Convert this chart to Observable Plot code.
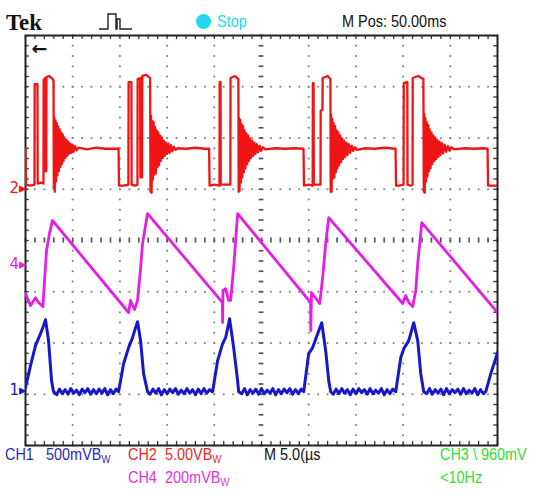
<!DOCTYPE html>
<html><head><meta charset="utf-8">
<script src="https://cdn.jsdelivr.net/npm/d3@7"></script>
<script src="https://cdn.jsdelivr.net/npm/@observablehq/plot@0.6"></script>
<style>
body{margin:0;background:#fff}
#wrap{position:relative;width:556px;height:496px;overflow:hidden;background:#fff}
#wrap svg{position:absolute;left:0;top:0}
.t{position:absolute;font-family:"Liberation Sans",Arial,sans-serif;font-size:17px;line-height:17px;white-space:nowrap;transform-origin:0 50%;transform:scaleX(.85)}
.t sub{font-size:11px;vertical-align:-3px;line-height:0}
</style></head>
<body><div id="wrap"></div>
<script>
// ---- channel settings ----
const channelNames = ["CH1", "CH2", "CH4"];
const channelColors = ["#1818c8", "#f01414", "#e41ee4"];
const unitsPerDiv = [500, 5, 200];      // CH1 mV/div, CH2 V/div, CH4 mV/div
const groundDiv = [-2.93, 1.03, -0.47]; // ground-marker level, in divisions from centre

// ---- CH1 (blue) [time µs, mV] ----
const ch1Trace = [
 [0,30],[0.53,244],[1.06,439],[1.59,556],[1.91,634],[2.12,693],[2.44,488],[2.76,98],[2.97,-10],
 [3.3,-40],[3.6,15],[3.9,-30],[4.2,10],[4.5,-35],[4.8,20],[5.1,-25],[5.4,5],[5.7,-40],[6.0,15],[6.3,-20],[6.6,20],[6.9,-35],[7.2,10],[7.5,-30],[7.8,15],[8.1,-25],[8.4,20],[8.7,-40],[9.0,10],[9.3,-30],[9.6,15],
 [9.86,-10],[10.39,263],[10.92,420],[11.34,517],[11.66,615],[11.87,673],[12.19,488],[12.51,166],[12.93,-10],
 [13.2,-35],[13.5,15],[13.8,-25],[14.1,20],[14.4,-40],[14.7,10],[15.0,-30],[15.3,15],[15.6,-20],[15.9,20],[16.2,-35],[16.5,5],[16.8,-30],[17.1,20],[17.4,-25],[17.7,10],[18.0,-40],[18.3,15],[18.6,-30],[18.9,20],[19.2,-25],[19.5,10],
 [19.82,-10],[20.35,293],[20.88,459],[21.2,517],[21.52,654],[21.62,702],[22.05,420],[22.47,98],[22.58,-10],
 [22.9,-30],[23.2,20],[23.5,-40],[23.8,10],[24.1,-25],[24.4,15],[24.7,-35],[25.0,20],[25.3,-30],[25.6,5],[25.9,-25],[26.2,20],[26.5,-40],[26.8,10],[27.1,-30],[27.4,15],[27.7,-20],[28.0,20],[28.3,-35],[28.6,10],[28.9,-30],[29.2,15],
 [29.47,-10],[30.0,361],[30.42,420],[30.95,556],[31.38,663],[31.8,390],[32.12,98],[32.33,-10],
 [32.6,-35],[32.9,15],[33.2,-30],[33.5,20],[33.8,-25],[34.1,10],[34.4,-40],[34.7,15],[35.0,-30],[35.3,20],[35.6,-20],[35.9,10],[36.2,-35],[36.5,20],[36.8,-30],[37.1,5],[37.4,-25],[37.7,20],[38.0,-40],[38.3,10],[38.6,-30],[38.9,15],
 [39.22,-10],[39.75,322],[40.07,410],[40.6,488],[41.13,663],[41.55,488],[41.87,166],[42.19,-10],
 [42.5,-30],[42.8,20],[43.1,-35],[43.4,10],[43.7,-25],[44.0,15],[44.3,-40],[44.6,20],[44.9,-30],[45.2,10],[45.5,-20],[45.8,15],[46.1,-35],[46.4,20],[46.7,-30],[47.0,5],[47.3,-25],[47.6,20],[47.9,-40],[48.2,10],[48.5,-30],
 [48.76,-10],[49.29,166],[50,371]
];

// ---- CH2 (red) [time µs, V] ----
const ch2Trace = [
 [0,3.8],[0.05,0.3],[0.5,0.2],[0.95,0.3],
 [0.97,10.1],[1.27,10.1],[1.29,0.4],[1.6,0.5],[1.9,0.4],
 [1.92,10.5],[2.1,10.7],[2.12,1.6],[2.2,1.6],[2.22,10.8],[2.5,10.9],[2.9,10.6],[2.97,10.4],[3.0,-0.1],
 [3.05,6.9],[3.1,-0.4],[3.17,6.6],[3.24,0.6],[3.31,6.3],[3.38,1.2],[3.45,6.0],[3.53,1.6],[3.61,5.7],[3.69,2.0],[3.77,5.4],[3.85,2.3],[3.94,5.2],[4.03,2.6],[4.12,4.9],[4.22,2.9],[4.32,4.7],[4.42,3.1],[4.52,4.5],[4.62,3.3],[4.74,4.3],[4.86,3.4],[4.98,4.2],[5.1,3.5],[5.25,4.05],[5.4,3.65],[5.6,3.9],
 [6.5,3.75],[7.5,3.9],[8.5,3.8],[9.86,3.8],[9.9,0.2],
 [10.4,0.2],[10.9,0.3],[10.92,10.3],[11.22,10.3],[11.24,0.3],[11.6,0.2],[11.86,0.3],
 [11.88,10.6],[12.15,10.7],[12.17,1.0],[12.35,1.0],[12.37,10.9],[12.8,11.0],[13.2,10.7],[13.24,-0.4],
 [13.3,7.0],[13.36,-0.5],[13.43,6.5],[13.5,0.8],[13.57,6.4],[13.65,1.3],[13.73,5.9],[13.81,1.4],[13.89,5.6],[13.97,2.0],[14.06,5.4],[14.15,2.2],[14.24,5.1],[14.34,2.6],[14.44,4.9],[14.54,2.9],[14.65,4.6],[14.76,3.1],[14.88,4.4],[15.0,3.3],[15.13,4.3],[15.26,3.4],[15.4,4.15],[15.55,3.55],[15.7,4.0],[15.9,3.7],[16.1,3.85],
 [17.0,3.8],[18.0,3.9],[19.0,3.8],[19.45,3.8],[19.5,0.2],
 [20.0,0.3],[20.55,0.2],[20.57,10.3],[20.66,10.3],[20.68,0.3],[21.2,0.3],[21.7,0.3],
 [21.72,10.7],[22.2,10.9],[22.55,10.6],[22.58,-0.4],
 [22.62,6.8],[22.68,-0.3],[22.75,6.6],[22.82,0.5],[22.89,6.2],[22.97,1.0],[23.05,6.0],[23.13,1.5],[23.21,5.6],[23.3,1.9],[23.39,5.3],[23.48,2.3],[23.58,5.1],[23.68,2.6],[23.78,4.8],[23.89,2.9],[24.0,4.6],[24.12,3.1],[24.24,4.4],[24.36,3.3],[24.5,4.25],[24.64,3.45],[24.8,4.1],[24.96,3.6],[25.15,3.95],[25.4,3.75],
 [26.5,3.85],[27.5,3.8],[28.5,3.85],[29.45,3.8],[29.5,0.2],
 [30.0,0.3],[30.42,0.2],[30.44,10.2],[30.52,10.2],[30.54,0.3],[31.0,0.3],[31.25,0.3],
 [31.27,7.5],[31.46,7.6],[31.48,10.7],[32.0,10.9],[32.3,10.6],[32.33,-0.4],
 [32.37,7.1],[32.43,-0.4],[32.5,6.7],[32.57,0.9],[32.64,6.3],[32.72,1.0],[32.8,6.0],[32.88,1.5],[32.96,5.6],[33.05,1.9],[33.14,5.4],[33.23,2.2],[33.33,5.1],[33.43,2.5],[33.53,4.8],[33.64,2.8],[33.75,4.6],[33.87,3.0],[33.99,4.4],[34.11,3.2],[34.25,4.25],[34.39,3.4],[34.55,4.1],[34.72,3.6],[34.9,3.95],[35.1,3.7],
 [36.0,3.85],[37.0,3.8],[38.0,3.9],[39.2,3.8],[39.25,0.2],
 [39.6,0.2],[40.05,0.3],[40.07,10.2],[40.45,10.3],[40.47,0.3],[40.8,0.2],[41.0,0.3],
 [41.02,10.7],[41.6,10.9],[42.15,10.6],[42.19,-0.4],
 [42.23,7.2],[42.29,-0.5],[42.36,6.8],[42.43,0.6],[42.5,6.4],[42.58,1.1],[42.66,6.1],[42.74,1.6],[42.82,5.7],[42.91,1.9],[43.0,5.4],[43.09,2.3],[43.19,5.1],[43.29,2.6],[43.39,4.9],[43.5,2.8],[43.61,4.7],[43.73,3.0],[43.85,4.5],[43.97,3.2],[44.1,4.35],[44.24,3.35],[44.4,4.2],[44.56,3.5],[44.74,4.05],[44.92,3.6],[45.1,3.95],[45.4,3.75],
 [46.5,3.85],[47.5,3.8],[48.5,3.85],[48.95,3.8],[49.0,0.2],[50,0.2]
];

// ---- CH4 (magenta) [time µs, mV] ----
const ch4Trace = [
 [0,-113],[0.53,-160],[1.06,-129],[1.38,-148],[1.85,-164],[1.95,-101],[2.23,55],[2.54,121],[2.86,172],
 [10.92,-187],[11.13,-140],[11.55,-176],[11.87,-140],[12.19,-16],[12.4,82],[12.93,199],
 [20.67,-140],[20.85,-148],[20.88,-226],[20.92,-101],[21.2,-94],[21.52,-140],[21.73,-140],[22.05,-12],[22.47,199],
 [30.2,-148],[30.22,-258],[30.3,-109],[31.16,-152],[31.48,-51],[31.8,82],[32.12,183],
 [39.96,-152],[40.28,-121],[40.6,-148],[41.02,-164],[41.34,-101],[41.55,4],[41.98,164],
 [50,-187]
];

// ---- screen texts ----
const headerTexts = ["Tek", "Stop", "M Pos: 50.00ms"];
const footerTexts = ["CH1", "500mV", "CH2", "5.00V", "M 5.0(\u00b5s", "CH3 \\ 960mV", "CH4", "200mV", "<10Hz"];

// ---- build rows ----
const traces = [ch1Trace, ch2Trace, ch4Trace];
const rows = [];
traces.forEach((tr, i) => tr.forEach(([t, v]) => rows.push({t, div: groundDiv[i] + v / unitsPerDiv[i], ch: channelNames[i]})));
const markers = channelNames.map((c, i) => ({label: c.slice(2) + "\u25B8", div: groundDiv[i], color: channelColors[i]}));

const xMajor = d3.range(5, 50, 5).filter(x => x !== 25);
const yMajor = d3.range(-3, 4, 1).filter(y => y !== 0);
const xMinor = d3.range(0, 50.001, 1);
const yMinor = d3.range(-4, 4.0001, 0.2).map(v => +v.toFixed(2));
const gridDotsV = d3.cross(xMajor, yMinor).map(([x, y]) => ({x, y}));
const gridDotsH = d3.cross(xMinor, yMajor).map(([x, y]) => ({x, y}));
const gridCol = "#858585";

const chart = Plot.plot({
  width: 556, height: 496,
  marginLeft: 25, marginRight: 59, marginTop: 35, marginBottom: 51,
  x: {domain: [0, 50], axis: null},
  y: {domain: [-4, 4], axis: null},
  style: {background: "transparent", overflow: "visible"},
  marks: [
    Plot.dot(gridDotsV, {x: "x", y: "y", r: 1.1, fill: gridCol, stroke: null}),
    Plot.dot(gridDotsH, {x: "x", y: "y", r: 1.1, fill: gridCol, stroke: null}),
    // centre lines with short dashes
    Plot.ruleY(yMinor, {y: d => d, x1: 24.75, x2: 25.25, stroke: "#555", strokeWidth: 1.7}),
    Plot.ruleX(xMinor, {x: d => d, y1: -0.05, y2: 0.05, stroke: "#555", strokeWidth: 1.7}),
    // edge ticks
    Plot.ruleX(xMinor, {x: d => d, y1: 4, y2: 3.92, stroke: "#333", strokeWidth: 1.3}),
    Plot.ruleX(xMinor, {x: d => d, y1: -4, y2: -3.92, stroke: "#333", strokeWidth: 1.3}),
    Plot.ruleY(yMinor, {y: d => d, x1: 0, x2: 0.4, stroke: "#333", strokeWidth: 1.3}),
    Plot.ruleY(yMinor, {y: d => d, x1: 50, x2: 49.6, stroke: "#333", strokeWidth: 1.3}),
    Plot.frame({stroke: "#222", strokeWidth: 2}),
    // traces
    Plot.line(rows.filter(d => d.ch === "CH2"), {x: "t", y: "div", stroke: channelColors[1], strokeWidth: 2.3, clip: true}),
    Plot.line(rows.filter(d => d.ch === "CH4"), {x: "t", y: "div", stroke: channelColors[2], strokeWidth: 2.8, clip: true}),
    Plot.line(rows.filter(d => d.ch === "CH1"), {x: "t", y: "div", stroke: channelColors[0], strokeWidth: 3, clip: true}),
    // ground markers
    Plot.text(markers, {frameAnchor: "left", y: "div", text: "label", fill: "color", textAnchor: "end", dx: 1, fontSize: 15, fontFamily: "DejaVu Sans"}),
    // trigger position arrow
    Plot.text(["\u2190"], {frameAnchor: "top-left", text: d => d, dx: 6, dy: 6, fontSize: 19, fontWeight: "bold", fill: "#111", fontFamily: "DejaVu Sans"})
  ]
});
const wrap = document.getElementById("wrap");
wrap.appendChild(chart);

function label(text, left, top, color, extra) {
  const s = document.createElement("span");
  s.className = "t";
  s.innerHTML = text;
  s.style.left = left + "px";
  s.style.top = top + "px";
  s.style.color = color;
  if (extra) Object.assign(s.style, extra);
  wrap.appendChild(s);
}
const esc = s => s.replace(/&/g, "&amp;").replace(/</g, "&lt;");
const bw = "B<sub>W</sub>";
// header
label(esc(headerTexts[0]), 6, 10, "#111", {fontFamily: "Liberation Serif, serif", fontWeight: "bold", fontSize: "24px", lineHeight: "24px", transform: "scaleX(.95)"});
label(esc(headerTexts[1]), 217, 13, "#22d8ee");
label(esc(headerTexts[2]), 342, 13, "#111");
// cyan dot
const dot = document.createElement("div");
Object.assign(dot.style, {position: "absolute", left: "196px", top: "14px", width: "15px", height: "15px", borderRadius: "50%", background: "#22d8ee"});
wrap.appendChild(dot);
// pulse icon
const ns = "http://www.w3.org/2000/svg";
const icon = document.createElementNS(ns, "svg");
icon.setAttribute("width", "36"); icon.setAttribute("height", "22");
Object.assign(icon.style, {position: "absolute", left: "98px", top: "10px"});
icon.innerHTML = '<path d="M1 19 H10 V4 H18 V19 H19 V9 H22 V19 H34" fill="none" stroke="#222" stroke-width="1.4"/>';
wrap.appendChild(icon);
// footer
label(esc(footerTexts[0]), 5, 446, "#2a2ab8");
label(esc(footerTexts[1]) + bw, 46, 446, "#2a2ab8");
label(esc(footerTexts[2]), 128, 446, "#e82828");
label(esc(footerTexts[3]) + bw, 165, 446, "#e82828");
label(esc(footerTexts[4]), 264, 446, "#111");
label(esc(footerTexts[5]), 440, 446, "#33dd33");
label(esc(footerTexts[6]), 128, 469, "#dd33dd");
label(esc(footerTexts[7]) + bw, 165, 469, "#dd33dd");
label(esc(footerTexts[8]), 440, 469, "#33dd33");
</script></body></html>
